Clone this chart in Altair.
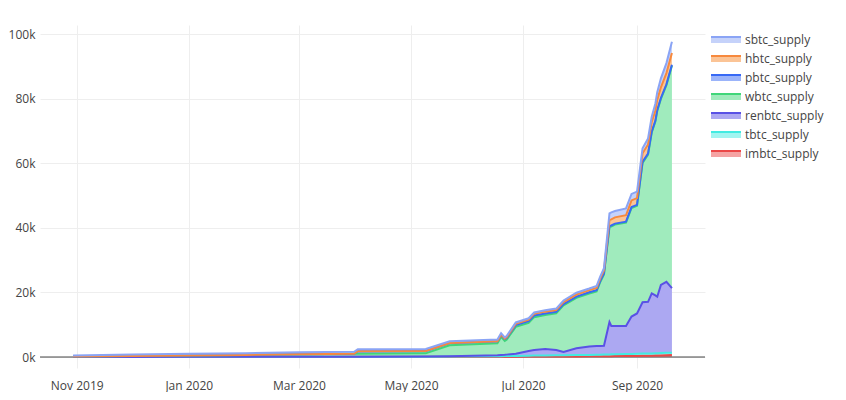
import altair as alt
import pandas as pd

# ---- data ----
dates = [
    "2019-10-30", "2019-11-15", "2019-12-01", "2020-01-01", "2020-02-01",
    "2020-03-01", "2020-03-31", "2020-04-02", "2020-05-09", "2020-05-22",
    "2020-06-17", "2020-06-19", "2020-06-21", "2020-06-22", "2020-06-27",
    "2020-07-04", "2020-07-07", "2020-07-13", "2020-07-19", "2020-07-23",
    "2020-07-30", "2020-08-06", "2020-08-10", "2020-08-12", "2020-08-14",
    "2020-08-17", "2020-08-18", "2020-08-20", "2020-08-26", "2020-08-29",
    "2020-09-01", "2020-09-04", "2020-09-07", "2020-09-09", "2020-09-11",
    "2020-09-12", "2020-09-14", "2020-09-17", "2020-09-20",
]
imbtc_supply = [20, 30, 40, 50, 60, 70, 80, 80, 90, 100,
                110, 110, 110, 110, 120, 130, 140, 150, 160, 170,
                180, 200, 220, 230, 240, 260, 270, 280, 300, 320,
                350, 380, 400, 420, 440, 450, 500, 550, 600]
tbtc_supply = [0, 0, 0, 0, 0, 0, 0, 0, 20, 60,
               150, 160, 170, 180, 200, 250, 300, 350, 380, 400,
               420, 450, 480, 500, 520, 550, 560, 570, 600, 620,
               650, 680, 700, 700, 720, 720, 730, 750, 750]
renbtc_supply = [0, 0, 0, 0, 0, 0, 0, 0, 30, 80,
                 300, 350, 400, 450, 700, 1500, 1700, 2000, 1600, 1000,
                 2100, 2600, 2700, 2700, 2700, 10000, 8800, 8750, 8700, 11600,
                 12500, 15900, 16000, 18600, 17900, 17500, 21100, 22000, 20000]
wbtc_supply = [150, 200, 300, 450, 600, 820, 900, 900, 1000, 3400,
               3700, 5600, 4300, 4600, 8300, 8700, 10200, 10500, 11400, 14400,
               15600, 16400, 16900, 19800, 22100, 29500, 30800, 31400, 32000, 33600,
               33300, 43140, 45600, 49780, 53840, 57480, 57570, 60850, 68850]
pbtc_supply = [0, 0, 0, 0, 0, 0, 0, 800, 750, 700,
               600, 600, 580, 580, 550, 500, 500, 450, 450, 430,
               400, 400, 400, 370, 340, 300, 300, 300, 300, 300,
               300, 300, 300, 300, 300, 300, 300, 300, 300]
hbtc_supply = [0, 0, 0, 0, 0, 0, 0, 0, 0, 0,
               50, 100, 100, 150, 400, 500, 550, 600, 550, 600,
               650, 650, 700, 750, 900, 1800, 1900, 1950, 2000, 2050,
               2100, 2700, 2800, 3000, 3100, 3150, 3300, 3450, 3600]
sbtc_supply = [330, 370, 420, 500, 540, 610, 620, 620, 610, 560,
               490, 480, 440, 430, 430, 420, 410, 450, 460, 500,
               550, 500, 600, 650, 700, 2090, 2170, 1950, 2100, 2010,
               2000, 1500, 1900, 1600, 2200, 2400, 2800, 3100, 3500]

# stacking order bottom -> top
series_names = ["imbtc_supply", "tbtc_supply", "renbtc_supply", "wbtc_supply",
                "pbtc_supply", "hbtc_supply", "sbtc_supply"]
series_values = [imbtc_supply, tbtc_supply, renbtc_supply, wbtc_supply,
                 pbtc_supply, hbtc_supply, sbtc_supply]
line_colors = ["#eb4747", "#41ebe1", "#5951e5", "#40d67a",
               "#3769f5", "#f7893d", "#8aa4f5"]
fill_colors = ["#f5a3a3", "#a0f5f0", "#aca8f2", "#a0ebbd",
               "#9bb4fa", "#fbc496", "#c5d2fa"]

rows = []
for rank, (name, vals) in enumerate(zip(series_names, series_values)):
    for d, v in zip(dates, vals):
        rows.append({"date": d, "series": name, "value": v, "rank": rank})
df = pd.DataFrame(rows)

legend_order = list(reversed(series_names))

FONT = "Open Sans"
TXT = "#444"
SWATCH = "M-3,-0.6H3V0.6H-3Z"

x_enc = alt.X(
    "date:T",
    scale=alt.Scale(domain=[alt.DateTime(year=2019, month=10, date=12),
                            alt.DateTime(year=2020, month=10, date=8)]),
    axis=alt.Axis(title=None, format="%b %Y",
                  tickCount={"interval": "month", "step": 2},
                  grid=True, gridColor="#eeeeee", gridWidth=1,
                  domain=False, ticks=False,
                  labelFont=FONT, labelFontSize=12, labelColor=TXT,
                  labelPadding=12),
)
y_scale = alt.Scale(domain=[-3400, 102800], nice=False, zero=False)
y_axis = alt.Axis(title=None, values=[0, 20000, 40000, 60000, 80000, 100000],
                  format="~s", grid=True, gridColor="#eeeeee", gridWidth=1,
                  domain=False, ticks=False,
                  labelFont=FONT, labelFontSize=12, labelColor=TXT,
                  labelPadding=5)


def make_legend():
    return alt.Legend(
        title=None, orient="none", legendX=680, legendY=9,
        symbolType=SWATCH, symbolSize=100, symbolOpacity=1,
        symbolStrokeWidth=2, symbolDash=[30, 42], labelOffset=13,
        labelFont=FONT, labelFontSize=12, labelColor=TXT,
        rowPadding=5,
    )


fill_enc = alt.Fill(
    "series:N",
    scale=alt.Scale(domain=legend_order, range=list(reversed(fill_colors))),
    sort=legend_order,
    legend=make_legend(),
)
stroke_enc = alt.Stroke(
    "series:N",
    scale=alt.Scale(domain=legend_order, range=list(reversed(line_colors))),
    sort=legend_order,
    legend=make_legend(),
)

base = alt.Chart(df).transform_stack(
    stack="value", groupby=["date"], as_=["y0", "y1"],
    sort=[alt.SortField("rank", order="ascending")],
)

areas = base.mark_area(fillOpacity=1, strokeWidth=0).encode(
    x=x_enc,
    y=alt.Y("y1:Q", scale=y_scale, axis=y_axis),
    y2="y0:Q",
    fill=fill_enc,
    detail="series:N",
)

lines = base.mark_line(strokeWidth=2).encode(
    x=x_enc,
    y=alt.Y("y1:Q", scale=y_scale, axis=y_axis),
    stroke=stroke_enc,
    detail="series:N",
)

zero = alt.Chart(pd.DataFrame({"z": [0]})).mark_rule(color="#444", strokeWidth=1).encode(
    y=alt.Y("z:Q", scale=y_scale, axis=y_axis),
)

chart = alt.layer(areas, zero, lines).properties(
    width=665, height=343,
    autosize=alt.AutoSizeParams(type="none"),
    padding={"left": 32, "top": 17, "right": 133, "bottom": 24},
    background="white",
).configure_view(stroke=None)

chart.save("out.html", embed_options={"renderer": "svg", "actions": False})
